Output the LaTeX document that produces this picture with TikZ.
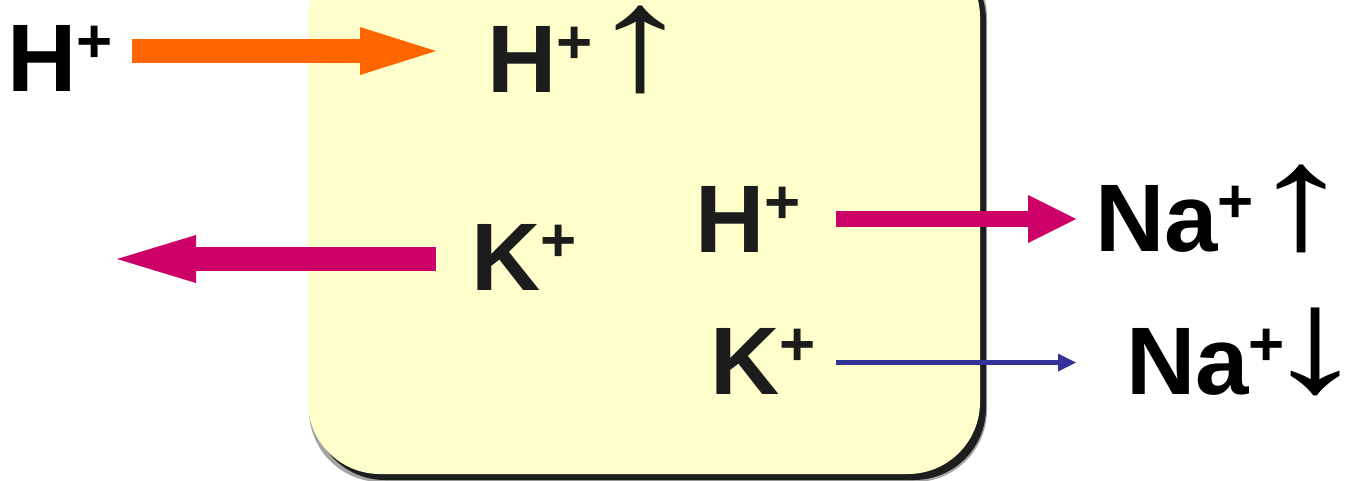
\documentclass[tikz,border=0pt]{standalone}
\usepackage{fontspec}
\setmainfont{Liberation Sans}
\usetikzlibrary{arrows.meta}
\definecolor{boxyellow}{HTML}{FFFFCC}
\definecolor{arrorange}{HTML}{FF6600}
\definecolor{arrmagenta}{HTML}{CC0066}
\definecolor{arrblue}{HTML}{333399}
\definecolor{intext}{HTML}{1C1C1C}
\definecolor{shadowc}{HTML}{1E1E1E}
\newcommand{\pls}{{\fontsize{62}{62}\selectfont\raisebox{29pt}{+}}}
\newcommand{\bigarw}[1]{\makebox[50pt]{\resizebox*{!}{88pt}{\scalebox{1.4}[1]{#1}}}}
\tikzset{
  lbl/.style={inner sep=0pt, outer sep=0pt, anchor=base west, font=\fontsize{96}{96}\selectfont\bfseries},
  uparw/.style={inner sep=0pt, outer sep=0pt, anchor=south, font=\fontsize{96}{96}\selectfont},
  dnarw/.style={inner sep=0pt, outer sep=0pt, anchor=north, font=\fontsize{96}{96}\selectfont},
}
\begin{document}
\begin{tikzpicture}[x=1pt,y=-1pt]
\useasboundingbox (0,0) rectangle (1349,480);
\clip (0,0) rectangle (1349,480);
% box with shadow
\fill[shadowc!40, rounded corners=72pt] (309,-55) rectangle (987,482);
\fill[shadowc, rounded corners=72pt] (313,-52) rectangle (986,480);
\fill[boxyellow, rounded corners=72pt] (308,-55) rectangle (980,474);
% arrow end points
\coordinate (o1) at (132,51);
\coordinate (o2) at (436,51);
\coordinate (m1) at (436,259);
\coordinate (m2) at (117,259);
\coordinate (r1) at (836,219);
\coordinate (r2) at (1076,219);
\coordinate (b1) at (836,362.5);
\coordinate (b2) at (1076,362.5);
% arrows
\draw[arrorange, line width=24pt, -{Triangle[length=76pt,width=48pt,line width=0pt]}] (o1) -- (o2);
\draw[arrmagenta, line width=24pt, -{Triangle[length=79pt,width=48pt,line width=0pt]}] (m1) -- (m2);
\draw[arrmagenta, line width=16pt, -{Triangle[length=48pt,width=48pt,line width=0pt]}] (r1) -- (r2);
\draw[arrblue, line width=5pt, -{Triangle[length=18pt,width=18pt,line width=0pt]}] (b1) -- (b2);
% labels
\node[lbl] (hout) at (7,91) {H\pls};
\node[lbl, text=intext] (hin) at (487,92) {H\pls};
\node[uparw, text=intext] (hinup) at (640.5,94) {\bigarw{↑}};
\node[lbl, text=intext] (kin) at (471,290) {K\pls};
\node[lbl, text=intext] (hex) at (695,252) {H\pls};
\node[lbl, text=intext] (kex) at (710,394) {K\pls};
\node[lbl] (naup) at (1095,251) {Na\pls};
\node[uparw] (naupa) at (1301.5,253) {\bigarw{↑}};
\node[lbl] (nadn) at (1126,394) {Na\pls};
\node[dnarw] (nadna) at (1316,308) {\bigarw{↓}};
\end{tikzpicture}
\end{document}
